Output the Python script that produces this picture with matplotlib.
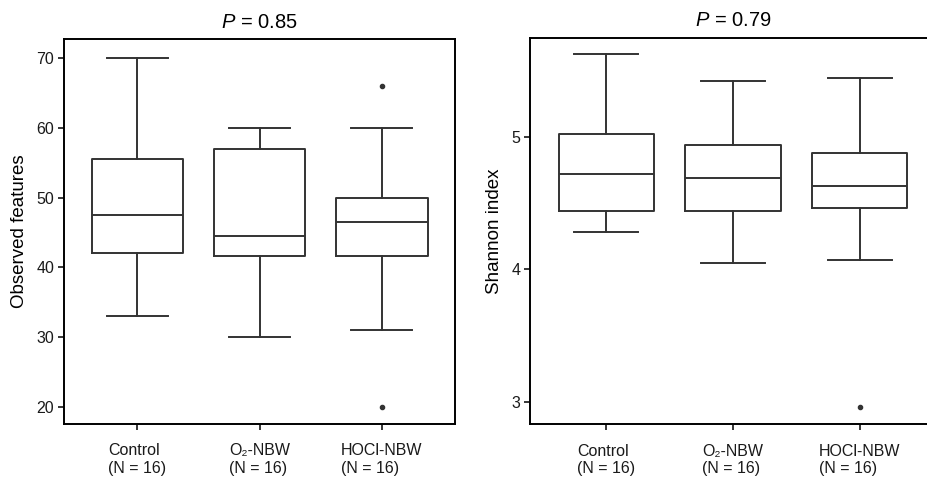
import matplotlib
matplotlib.use("Agg")
import matplotlib.pyplot as plt

plt.rcParams['font.family'] = ['Liberation Sans', 'DejaVu Sans']
plt.rcParams['mathtext.fontset'] = 'custom'
plt.rcParams['mathtext.rm'] = 'Liberation Sans'
plt.rcParams['mathtext.it'] = 'Liberation Sans:italic'

GROUPS = ['Control\n(N = 16)', 'O\u2082-NBW\n(N = 16)', 'HOCl-NBW\n(N = 16)']

# observed features: whisker low, Q1, median, Q3, whisker high, outliers
OBS_LOW = [33, 30, 31]
OBS_Q1 = [42.0, 41.7, 41.7]
OBS_MED = [47.5, 44.5, 46.5]
OBS_Q3 = [55.5, 57.0, 50.0]
OBS_HIGH = [70, 60, 60]
OBS_FLIERS = [[], [], [66, 20]]

# shannon index
SHA_LOW = [4.28, 4.05, 4.07]
SHA_Q1 = [4.44, 4.44, 4.46]
SHA_MED = [4.72, 4.69, 4.63]
SHA_Q3 = [5.02, 4.94, 4.88]
SHA_HIGH = [5.62, 5.42, 5.44]
SHA_FLIERS = [[], [], [2.96]]

LINE = '#333333'
LW = 1.4


def make_stats(low, q1, med, q3, high, fliers):
    return [dict(whislo=a, q1=b, med=c, q3=d, whishi=e, fliers=f)
            for a, b, c, d, e, f in zip(low, q1, med, q3, high, fliers)]


def draw(ax, stats, title, ylabel, ylim, yticks):
    ax.bxp(stats, positions=[1, 2, 3], widths=0.75, capwidths=0.5,
           showfliers=True,
           boxprops=dict(color=LINE, linewidth=LW),
           whiskerprops=dict(color=LINE, linewidth=LW),
           capprops=dict(color=LINE, linewidth=LW),
           medianprops=dict(color=LINE, linewidth=LW),
           flierprops=dict(marker='o', markersize=3, markerfacecolor=LINE,
                           markeredgecolor=LINE))
    ax.set_xlim(0.4, 3.6)
    ax.set_ylim(*ylim)
    ax.set_yticks(yticks)
    ax.set_xticks([1, 2, 3])
    ax.set_xticklabels(GROUPS, multialignment='left')
    ax.tick_params(labelsize=11.5, length=4, width=1.1, color='black',
                   labelcolor='#1a1a1a', pad=3)
    ax.tick_params(axis='x', pad=10)
    ax.set_ylabel(ylabel, fontsize=13.5, color='black', labelpad=6)
    ax.set_title(title, fontsize=14.5, pad=8)
    for s in ax.spines.values():
        s.set_linewidth(1.4)
        s.set_color('black')


fig = plt.figure(figsize=(9.28, 4.84), dpi=100)
ax1 = fig.add_axes([0.069, 0.124, 0.4213, 0.7955])
ax2 = fig.add_axes([0.5711, 0.1233, 0.4375, 0.799])

draw(ax1, make_stats(OBS_LOW, OBS_Q1, OBS_MED, OBS_Q3, OBS_HIGH, OBS_FLIERS),
     '$\\it{P}$ = 0.85', 'Observed features', (17.6, 72.7), [20, 30, 40, 50, 60, 70])
draw(ax2, make_stats(SHA_LOW, SHA_Q1, SHA_MED, SHA_Q3, SHA_HIGH, SHA_FLIERS),
     '$\\it{P}$ = 0.79', 'Shannon index', (2.83, 5.747), [3, 4, 5])

fig.savefig('out.png', dpi=100)
